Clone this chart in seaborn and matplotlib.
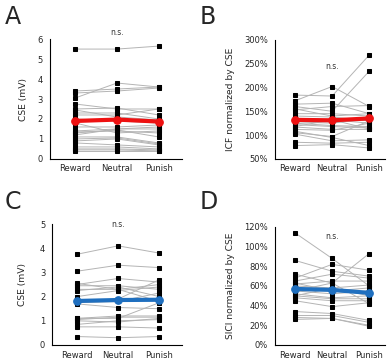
import numpy as np
import pandas as pd
import matplotlib
matplotlib.use("Agg")
import matplotlib.pyplot as plt
import seaborn as sns
from matplotlib.ticker import PercentFormatter, FixedLocator

# ==========================================
# DATA
# ==========================================
conditions = ["Reward", "Neutral", "Punish"]

# A: CSE (mV), reward/punish session
a_reward = [5.5, 3.05, 3.4, 3.3, 2.75, 2.5, 2.3, 2.2, 2.0, 1.6, 1.4, 1.35, 1.3, 1.1, 1.0, 0.9, 0.8, 0.6, 0.5, 0.45, 0.4, 1.8, 2.45, 1.2]
a_neutral = [5.5, 3.8, 3.5, 3.4, 2.5, 2.55, 2.3, 2.2, 1.9, 1.6, 1.5, 1.4, 1.45, 1.1, 1.05, 1.0, 0.7, 0.6, 0.5, 0.45, 0.4, 1.3, 2.1, 1.5]
a_punish = [5.65, 3.6, 3.6, 3.55, 2.5, 2.2, 2.0, 2.5, 1.8, 1.7, 1.6, 1.3, 1.1, 0.8, 0.75, 0.7, 0.6, 0.5, 0.45, 0.4, 0.4, 1.4, 1.95, 1.5]
a_mean = [1.9, 1.97, 1.87]

# B: ICF normalized by CSE (%)
b_reward = [172, 184, 160, 165, 153, 145, 140, 133, 128, 122, 117, 112, 105, 102, 85, 78, 118, 108, 155, 125]
b_neutral = [202, 182, 150, 167, 160, 145, 138, 132, 125, 118, 112, 110, 97, 88, 83, 80, 132, 95, 140, 120]
b_punish = [160, 268, 234, 145, 162, 140, 130, 125, 135, 115, 112, 125, 130, 90, 85, 73, 113, 78, 145, 118]
b_mean = [132, 131, 135]

# C: CSE (mV), second session
c_reward = [3.75, 3.05, 2.5, 2.45, 2.3, 2.25, 2.0, 1.8, 1.75, 1.7, 1.1, 1.05, 1.0, 0.85, 0.75, 0.35, 1.1, 2.55]
c_neutral = [4.1, 3.3, 2.75, 2.45, 2.3, 2.4, 2.25, 1.9, 1.8, 1.55, 1.2, 1.15, 0.95, 1.0, 0.75, 0.3, 1.1, 2.3]
c_punish = [3.8, 3.2, 2.6, 2.3, 2.5, 2.0, 2.4, 2.7, 2.15, 1.5, 1.2, 1.15, 1.1, 1.05, 0.7, 0.35, 1.75, 1.8]
c_mean = [1.82, 1.86, 1.87]

# D: SICI normalized by CSE (%)
d_reward = [114, 86, 68, 72, 65, 62, 60, 58, 55, 52, 50, 48, 45, 34, 30, 28, 26, 55, 50, 63]
d_neutral = [88, 75, 82, 63, 72, 65, 58, 55, 52, 48, 47, 45, 39, 32, 30, 27, 27, 63, 58, 55]
d_punish = [60, 70, 76, 93, 68, 65, 61, 58, 55, 50, 47, 45, 43, 25, 23, 20, 19, 42, 50, 53]
d_mean = [57, 56, 53]


def to_long(r, n, p):
    rows = []
    for i, vals in enumerate(zip(r, n, p)):
        for j, v in enumerate(vals):
            rows.append({"subject": i, "cond": j, "value": v})
    return pd.DataFrame(rows)


def draw_panel(ax, r, n, p, mean, color, ylim, yticks, ylabel, pct, xlim, ns_y, label_x):
    df = to_long(r, n, p)
    # individual subjects
    sns.lineplot(data=df, x="cond", y="value", units="subject", estimator=None,
                 color="#b4b4b4", lw=0.7, marker="s", markersize=2.3,
                 markerfacecolor="black", markeredgecolor="black", ax=ax, zorder=2)
    # group mean
    mdf = pd.DataFrame({"cond": [0, 1, 2], "value": mean})
    sns.lineplot(data=mdf, x="cond", y="value", color=color, lw=3, marker="o",
                 markersize=5.5, markeredgecolor=color, ax=ax, zorder=5)
    ax.set_ylim(*ylim)
    ax.set_xlim(*xlim)
    ax.set_yticks(yticks)
    if pct:
        ax.yaxis.set_major_formatter(PercentFormatter(decimals=0))
    ax.set_xticks([0, 1, 2])
    ax.set_xticklabels(conditions)
    ax.xaxis.set_minor_locator(FixedLocator([0.5, 1.5]))
    ax.tick_params(axis="x", which="major", length=0, labelsize=6, pad=4)
    ax.tick_params(axis="x", which="minor", length=3, width=0.8, direction="out")
    ax.tick_params(axis="y", length=3, width=0.8, labelsize=6, direction="out", pad=2)
    ax.set_xlabel("")
    ax.set_ylabel(ylabel, fontsize=6.6)
    ax.yaxis.set_label_coords(label_x, 0.5)
    for s in ["top", "right"]:
        ax.spines[s].set_visible(False)
    for s in ["left", "bottom"]:
        ax.spines[s].set_linewidth(0.8)
        ax.spines[s].set_color("black")
    ax.text(1, ns_y, "n.s.", ha="center", va="center", fontsize=5.5, color="#333333",
            clip_on=False)


sns.set_style("white")
plt.rcParams["font.family"] = ["DejaVu Sans"]

fig = plt.figure(figsize=(3.89, 3.62), dpi=100)
axA = fig.add_axes([0.1285, 0.561, 0.339, 0.331])
axB = fig.add_axes([0.707, 0.561, 0.283, 0.329])
axC = fig.add_axes([0.134, 0.047, 0.334, 0.334])
axD = fig.add_axes([0.707, 0.047, 0.283, 0.326])

draw_panel(axA, a_reward, a_neutral, a_punish, a_mean, "#ee1111", (0, 6), range(0, 7),
           "CSE (mV)", False, (-0.6, 2.55), 6.35, -0.17)
draw_panel(axB, b_reward, b_neutral, b_punish, b_mean, "#ee1111", (50, 300), range(50, 301, 50),
           "ICF normalized by CSE", True, (-0.54, 2.43), 245, -0.36)
draw_panel(axC, c_reward, c_neutral, c_punish, c_mean, "#1f6fbf", (0, 5), range(0, 6),
           "CSE (mV)", False, (-0.6, 2.55), 5.0, -0.19)
draw_panel(axD, d_reward, d_neutral, d_punish, d_mean, "#1f6fbf", (0, 120), range(0, 121, 20),
           "SICI normalized by CSE", True, (-0.54, 2.43), 110, -0.36)

for lab, x, y in [("A", 0.012, 0.985), ("B", 0.512, 0.985), ("C", 0.012, 0.475), ("D", 0.512, 0.475)]:
    fig.text(x, y, lab, fontsize=17, ha="left", va="top")

fig.savefig("out.png", dpi=100)
